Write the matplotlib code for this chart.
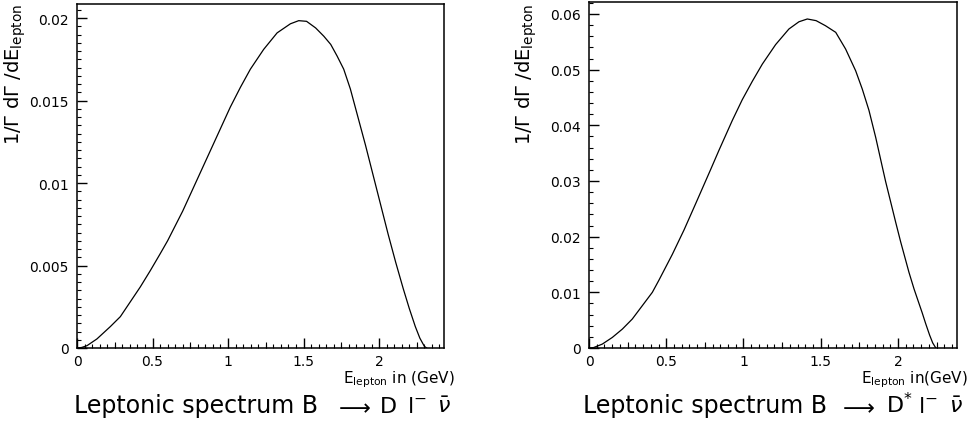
import matplotlib
matplotlib.use("Agg")
import matplotlib.pyplot as plt
from matplotlib.ticker import MultipleLocator, FuncFormatter

plt.rcParams['mathtext.fontset'] = 'dejavusans'
plt.rcParams['font.family'] = ['DejaVu Sans']

# Left panel: B -> D l nu  (E_lepton in GeV, 1/Gamma dGamma/dE)
e_d = [0.0, 0.03, 0.066, 0.132, 0.221, 0.287, 0.353, 0.419, 0.486, 0.55, 0.6, 0.65,
       0.7, 0.75, 0.8, 0.85, 0.9, 0.95, 1.015, 1.082, 1.148, 1.236, 1.325, 1.413,
       1.468, 1.52, 1.58, 1.634, 1.68, 1.722, 1.766, 1.81, 1.86, 1.91, 1.96, 2.01,
       2.06, 2.11, 2.16, 2.2, 2.24, 2.27, 2.3, 2.315]
s_d = [0.0, 0.00003, 0.00014, 0.00055, 0.0013, 0.0019, 0.0028, 0.0037, 0.0047,
       0.0057, 0.0065, 0.0074, 0.0083, 0.0093, 0.0103, 0.0113, 0.0123, 0.0133,
       0.0146, 0.0158, 0.0169, 0.0181, 0.0191, 0.01965, 0.01984, 0.0198, 0.0194,
       0.0189, 0.0184, 0.0177, 0.0169, 0.0157, 0.0140, 0.0123, 0.0105, 0.0087,
       0.0069, 0.0052, 0.0036, 0.0024, 0.0013, 0.0006, 0.0001, 0.0]

# Right panel: B -> D* l nu
e_ds = [0.0, 0.03, 0.086, 0.151, 0.216, 0.28, 0.345, 0.41, 0.453, 0.539, 0.615,
        0.69, 0.788, 0.841, 0.928, 0.992, 1.057, 1.122, 1.208, 1.294, 1.359, 1.413,
        1.47, 1.53, 1.597, 1.661, 1.726, 1.769, 1.812, 1.856, 1.898, 1.92, 1.953,
        1.985, 2.017, 2.071, 2.104, 2.136, 2.157, 2.179, 2.205, 2.225, 2.245]
s_ds = [0.0, 0.00008, 0.0007, 0.0019, 0.0034, 0.0052, 0.0076, 0.0100, 0.0122, 0.0168,
        0.0212, 0.0259, 0.0321, 0.0355, 0.0409, 0.0446, 0.0479, 0.0510, 0.0545,
        0.0573, 0.0586, 0.0591, 0.0588, 0.0579, 0.0567, 0.0537, 0.0498, 0.0465,
        0.0427, 0.0378, 0.0326, 0.0299, 0.0262, 0.0226, 0.0191, 0.0136, 0.0106,
        0.0080, 0.0063, 0.0044, 0.0023, 0.0009, 0.0]

x_ticks = [0, 0.5, 1, 1.5, 2]
ylabel = r"1/$\Gamma$ d$\Gamma$ /dE$_{\rm lepton}$"
xlabels = [r"E$_{\rm lepton}$ in (GeV)", r"E$_{\rm lepton}$ in(GeV)"]
title_main = "Leptonic spectrum B"
title_parts = [
    [r"$\longrightarrow$", "D", r"l$^{-}$", r"$\bar{\nu}$"],
    [r"$\longrightarrow$", r"D$^{*}$", r"l$^{-}$", r"$\bar{\nu}$"],
]

W, H = 972, 427
fig = plt.figure(figsize=(W / 100, H / 100), dpi=100)

panels = [
    dict(x=e_d, y=s_d, box=(77, 5, 444, 349), xmax=2.43, ymax=0.02085,
         ymaj=0.005, ymin=0.0005, parts=title_parts[0], ylab_x=15,
         xlabel=xlabels[0], tx=[74, 334, 380, 407, 437]),
    dict(x=e_ds, y=s_ds, box=(589, 3, 957, 349), xmax=2.382, ymax=0.06215,
         ymaj=0.01, ymin=0.002, parts=title_parts[1], ylab_x=526,
         xlabel=xlabels[1], tx=[583, 838, 886, 918, 949]),
]


def fmt(v, pos):
    return "%g" % round(v, 6)


for p in panels:
    x0, y0, x1, y1 = p['box']
    ax = fig.add_axes([x0 / W, 1 - y1 / H, (x1 - x0) / W, (y1 - y0) / H])
    ax.plot(p['x'], p['y'], color='black', lw=0.9)
    ax.set_xlim(0, p['xmax'])
    ax.set_ylim(0, p['ymax'])
    ax.set_xticks(x_ticks)
    ax.xaxis.set_minor_locator(MultipleLocator(0.05))
    ax.yaxis.set_major_locator(MultipleLocator(p['ymaj']))
    ax.yaxis.set_minor_locator(MultipleLocator(p['ymin']))
    ax.xaxis.set_major_formatter(FuncFormatter(fmt))
    ax.yaxis.set_major_formatter(FuncFormatter(fmt))
    ax.tick_params(which='major', direction='in', length=7, width=1.0,
                   labelsize=10, top=False, right=False)
    ax.tick_params(axis='y', which='major', pad=6)
    ax.tick_params(axis='x', which='major', pad=4)
    ax.tick_params(which='minor', direction='in', length=3, width=0.8,
                   top=False, right=False)
    for s in ax.spines.values():
        s.set_linewidth(1.1)
    # medium ticks at quarter units
    sec = ax.secondary_xaxis('bottom')
    sec.set_xticks([0.25, 0.75, 1.25, 1.75, 2.25])
    sec.tick_params(direction='in', length=4.5, width=0.8, labelbottom=False)
    sec.spines['bottom'].set_visible(False)

    fig.text((x1 + 11) / W, 1 - 383 / H, p['xlabel'], ha='right', va='baseline',
             fontsize=11)
    ty = 1 - 413 / H
    fig.text(p['tx'][0] / W, ty, title_main, ha='left', va='baseline', fontsize=17)
    for xx, part in zip(p['tx'][1:], p['parts']):
        fig.text(xx / W, ty, part, ha='left', va='baseline', fontsize=16)
    fig.text(p['ylab_x'] / W, 1 - 4 / H, ylabel, rotation=90, ha='center', va='top',
             fontsize=14)

fig.savefig("out.png", dpi=100)
